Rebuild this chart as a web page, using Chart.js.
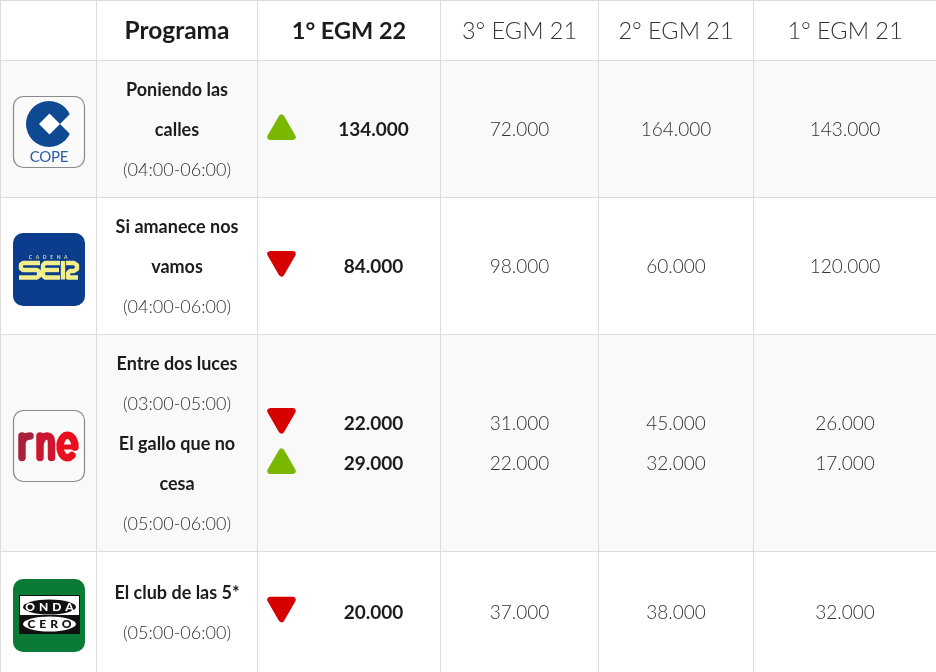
<!DOCTYPE html>
<html>
<head>
<meta charset="utf-8">
<title>EGM madrugada</title>
<script src="https://cdn.jsdelivr.net/npm/chart.js@4"></script>
<style>
  html, body { margin: 0; padding: 0; background: #fff; overflow: hidden; }
  canvas { display: block; }
</style>
</head>
<body>
<canvas id="egmChart" width="936" height="672"></canvas>
<script>
// Datos de la tabla
const waves = ['1° EGM 22', '3° EGM 21', '2° EGM 21', '1° EGM 21'];
const programmeNames = [['Poniendo las', 'calles'], ['Si amanece nos', 'vamos'], ['Entre dos luces'], ['El gallo que no', 'cesa'], ['El club de las 5*']];
const programmeHours = ['(04:00-06:00)', '(04:00-06:00)', '(03:00-05:00)', '(05:00-06:00)', '(05:00-06:00)'];
const programmeRows = [1, 2, 3, 3, 4];
const egm1of22 = [134000, 84000, 22000, 29000, 20000];
const egm3of21 = [72000, 98000, 31000, 22000, 37000];
const egm2of21 = [164000, 60000, 45000, 32000, 38000];
const egm1of21 = [143000, 120000, 26000, 17000, 32000];

// Retícula de la tabla
const columnEdges = [0.5, 96, 257, 440, 598, 753, 936];
const rowEdges = [0.5, 60.5, 197.5, 334.5, 551.5, 672];
const lineHeight = 40;
const textShift = 1;

const columnCentre = i => (columnEdges[i] + columnEdges[i + 1]) / 2 + 0.5;
const rowCentre = i => (rowEdges[i] + rowEdges[i + 1]) / 2;
const formatValue = v => String(v).replace(/\B(?=(\d{3})+$)/g, '.');

// Altura de la línea de cada programa dentro de su fila
function valueLineY(index) {
    const row = programmeRows[index];
    const sameRow = programmeRows.filter(r => r === row).length;
    const position = programmeRows.slice(0, index).filter(r => r === row).length;
    return rowCentre(row) + (position - (sameRow - 1) / 2) * lineHeight;
}

const waveColumns = [2, 3, 4, 5];
const waveValues = [egm1of22, egm3of21, egm2of21, egm1of21];
const valueX = [373.5, null, null, null];

const valueDatasets = waveValues.map((values, w) => ({
    label: waves[w],
    data: values.map((v, i) => ({ x: valueX[w] || columnCentre(waveColumns[w]), y: valueLineY(i), value: v })),
    pointRadius: 0
}));

const trendUp = [];
const trendDown = [];
egm1of22.forEach((v, i) => {
    if (v > egm3of21[i]) trendUp.push({ x: 281.5, y: valueLineY(i) + 1.5 });
    else trendDown.push({ x: 281.5, y: valueLineY(i) - 5.5 });
});

const trendStyle = { pointStyle: 'triangle', pointRadius: 13, pointBorderWidth: 6 };

function roundedBox(ctx, x, y, w, h, r, fill, stroke) {
    ctx.beginPath();
    ctx.roundRect(x, y, w, h, r);
    ctx.fillStyle = fill;
    ctx.fill();
    if (stroke) {
        ctx.strokeStyle = stroke;
        ctx.lineWidth = 1.2;
        ctx.stroke();
    }
}

function drawCope(ctx, x, y) {
    roundedBox(ctx, x + 0.5, y + 0.5, 71, 71, 10, '#fafafa', '#8a8a8a');
    ctx.fillStyle = '#0d4a91';
    ctx.beginPath();
    ctx.arc(x + 36, y + 28, 23, 0, Math.PI * 2);
    ctx.fill();
    ctx.fillStyle = '#fafafa';
    ctx.beginPath();
    ctx.moveTo(x + 47, y + 28);
    ctx.lineTo(x + 61, y + 14);
    ctx.lineTo(x + 61, y + 42);
    ctx.closePath();
    ctx.fill();
    ctx.beginPath();
    ctx.moveTo(x + 36.5, y + 17.5);
    ctx.lineTo(x + 47, y + 28);
    ctx.lineTo(x + 36.5, y + 38.5);
    ctx.lineTo(x + 26, y + 28);
    ctx.closePath();
    ctx.fillStyle = '#ffffff';
    ctx.fill();
    ctx.fillStyle = '#2a5fa5';
    ctx.font = '400 15px Lato';
    ctx.textAlign = 'center';
    ctx.textBaseline = 'middle';
    ctx.letterSpacing = '-0.3px';
    ctx.fillText('COPE', x + 36, y + 61);
    ctx.letterSpacing = '0px';
}

function drawSer(ctx, x, y) {
    roundedBox(ctx, x, y, 72, 73, 10, '#0c3c8c');
    ctx.fillStyle = '#d9dcb0';
    ctx.font = '700 5px Lato';
    ctx.textAlign = 'center';
    ctx.textBaseline = 'middle';
    ctx.letterSpacing = '3.6px';
    ctx.fillText('CADENA', x + 37, y + 24);
    ctx.letterSpacing = '0px';
    ctx.strokeStyle = '#f3ee8c';
    ctx.lineWidth = 4.4;
    ctx.lineJoin = 'round';
    ctx.lineCap = 'butt';
    const t = y + 30, m = y + 37, b = y + 44.5;
    const strokes = [
        [[27, t], [10, t], [8, t + 1.5], [8, m - 1.5], [10, m], [24, m], [26, m + 1.5], [26, b - 1.5], [24, b], [6, b]],
        [[47, t], [32, t], [30, t + 2], [30, b - 2], [32, b], [47, b]],
        [[32, m], [46, m]],
        [[50, b + 2], [50, t - 2]],
        [[53, t], [61, t], [64, t + 2], [64, m - 1], [61, m + 1], [57, m + 1], [55, m + 3], [55, b], [65, b]]
    ];
    strokes.forEach(pts => {
        ctx.beginPath();
        pts.forEach((p, i) => i ? ctx.lineTo(x + p[0], p[1]) : ctx.moveTo(x + p[0], p[1]));
        ctx.stroke();
    });
}

function drawRne(ctx, x, y) {
    roundedBox(ctx, x + 0.5, y + 0.5, 71, 71, 10, '#fafafa', '#8a8a8a');
    ctx.save();
    ctx.translate(x, y);
    ctx.strokeStyle = '#a8203c';
    ctx.lineWidth = 7.5;
    ctx.lineCap = 'round';
    // r
    ctx.beginPath();
    ctx.moveTo(9, 26);
    ctx.lineTo(9, 47.5);
    ctx.moveTo(9, 33);
    ctx.quadraticCurveTo(10, 26, 17, 26);
    ctx.stroke();
    // n
    ctx.strokeStyle = '#cc1530';
    ctx.beginPath();
    ctx.moveTo(27, 26);
    ctx.lineTo(27, 47.5);
    ctx.moveTo(27, 34);
    ctx.quadraticCurveTo(29, 26, 34, 26);
    ctx.quadraticCurveTo(38.5, 26, 38.5, 33);
    ctx.lineTo(38.5, 47.5);
    ctx.stroke();
    // e
    ctx.strokeStyle = '#e8101e';
    ctx.beginPath();
    ctx.ellipse(54.5, 36.5, 7.5, 11.2, 0, Math.PI * 0.3, Math.PI * 2.02);
    ctx.stroke();
    ctx.lineCap = 'butt';
    ctx.lineWidth = 5;
    ctx.beginPath();
    ctx.moveTo(48, 37);
    ctx.lineTo(62, 37);
    ctx.stroke();
    ctx.restore();
}

function drawOnda(ctx, x, y) {
    roundedBox(ctx, x, y, 72, 73, 10, '#0a7a36');
    ctx.fillStyle = '#111';
    ctx.fillRect(x + 6, y + 16, 61, 39);
    ctx.fillStyle = '#fff';
    ctx.fillRect(x + 7, y + 17, 59, 19);
    ctx.fillStyle = '#111';
    ctx.beginPath();
    ctx.ellipse(x + 36.5, y + 28, 26.5, 7.5, 0, 0, Math.PI * 2);
    ctx.fill();
    ctx.fillStyle = '#fff';
    ctx.beginPath();
    ctx.ellipse(x + 36.5, y + 45, 26.5, 7.5, 0, 0, Math.PI * 2);
    ctx.fill();
    ctx.font = '900 12px Lato';
    ctx.textAlign = 'center';
    ctx.textBaseline = 'middle';
    ctx.letterSpacing = '4px';
    ctx.fillStyle = '#fff';
    ctx.fillText('ONDA', x + 38.5, y + 28.5);
    ctx.fillStyle = '#111';
    ctx.fillText('CERO', x + 38.5, y + 45.5);
    ctx.letterSpacing = '0px';
}

const tablePlugin = {
    id: 'tablePlugin',
    beforeDraw(chart) {
        const { ctx, scales: { y } } = chart;
        ctx.save();
        ctx.fillStyle = '#f9f9f9';
        [1, 3].forEach(r => {
            const top = y.getPixelForValue(rowEdges[r]);
            ctx.fillRect(0, top, 936, y.getPixelForValue(rowEdges[r + 1]) - top);
        });
        ctx.restore();
    },
    beforeDatasetsDraw(chart) {
        chart.ctx.save();
        chart.ctx.lineJoin = 'round';
    },
    afterDatasetsDraw(chart) {
        const { ctx, scales: { x, y } } = chart;
        ctx.restore();
        ctx.save();
        ctx.textAlign = 'center';
        ctx.textBaseline = 'middle';

        // Cabecera
        const headerY = y.getPixelForValue(rowCentre(0)) + textShift;
        ctx.fillStyle = '#1c1c1c';
        ctx.font = '700 24.5px Lato';
        ctx.fillText('Programa', x.getPixelForValue(columnCentre(1)), headerY);
        waves.forEach((label, w) => {
            ctx.font = w === 0 ? '700 23.5px Lato' : '300 23.5px Lato';
            ctx.fillStyle = w === 0 ? '#1c1c1c' : '#333';
            ctx.fillText(label, x.getPixelForValue(columnCentre(waveColumns[w])), headerY);
        });

        // Columna de programas
        [1, 2, 3, 4].forEach(row => {
            const lines = [];
            programmeRows.forEach((r, i) => {
                if (r !== row) return;
                programmeNames[i].forEach(text => lines.push({ text, strong: true }));
                lines.push({ text: programmeHours[i], strong: false });
            });
            lines.forEach((line, n) => {
                ctx.font = (line.strong ? '700' : '300') + ' 18px Lato';
                ctx.fillStyle = line.strong ? '#1c1c1c' : '#333';
                const lineY = rowCentre(row) + (n - (lines.length - 1) / 2) * lineHeight;
                ctx.fillText(line.text, x.getPixelForValue(columnCentre(1)), y.getPixelForValue(lineY) + textShift);
            });
        });

        // Valores de cada oleada
        valueDatasets.forEach((set, w) => {
            ctx.font = (w === 0 ? '700' : '300') + ' 19px Lato';
            ctx.fillStyle = w === 0 ? '#1c1c1c' : '#333';
            chart.getDatasetMeta(w).data.forEach((point, i) => {
                ctx.fillText(formatValue(set.data[i].value), point.x, point.y + textShift);
            });
        });

        // Logotipos
        drawCope(ctx, 13, 96);
        drawSer(ctx, 13, 233);
        drawRne(ctx, 13, 410);
        drawOnda(ctx, 13, 579);
        ctx.restore();
    }
};

const grid = { color: '#dcdcdc', lineWidth: 1, drawTicks: false, tickLength: 0 };
const hiddenTicks = { display: false, padding: 0 };

new Chart(document.getElementById('egmChart').getContext('2d'), {
    type: 'scatter',
    data: {
        datasets: [
            ...valueDatasets,
            { label: 'Sube', data: trendUp, backgroundColor: '#7ab800', borderColor: '#7ab800', ...trendStyle },
            { label: 'Baja', data: trendDown, backgroundColor: '#d60000', borderColor: '#d60000', pointRotation: 180, ...trendStyle }
        ]
    },
    options: {
        responsive: false,
        animation: false,
        events: [],
        layout: { padding: 0, autoPadding: false },
        plugins: { legend: { display: false }, tooltip: { enabled: false } },
        scales: {
            x: {
                type: 'linear', min: 0, max: 936, grid,
                border: { display: false },
                ticks: hiddenTicks,
                afterBuildTicks: scale => { scale.ticks = columnEdges.slice(0, -1).map(value => ({ value })); }
            },
            y: {
                type: 'linear', min: 0, max: 672, reverse: true, grid,
                border: { display: false },
                ticks: hiddenTicks,
                afterBuildTicks: scale => { scale.ticks = rowEdges.slice(0, -1).map(value => ({ value })); }
            }
        }
    },
    plugins: [tablePlugin]
});
</script>
</body>
</html>
